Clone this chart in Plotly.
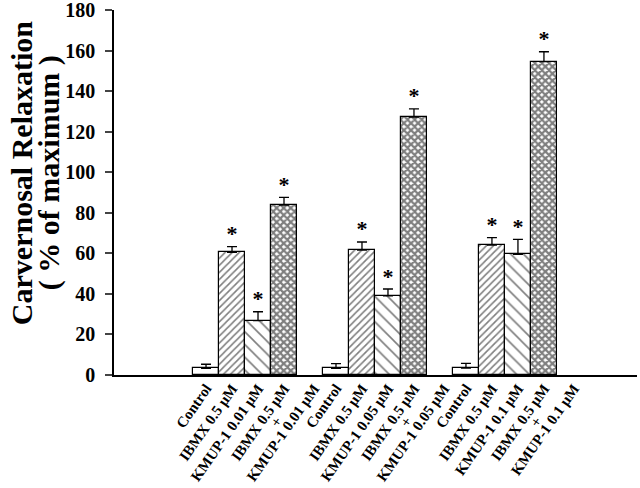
import plotly.graph_objects as go

# ---- data ----
groups = ["0.01", "0.05", "0.1"]
control = [3.3, 3.3, 3.4]
control_err = [2.0, 2.3, 2.3]
ibmx = [60.5, 61.6, 64.1]
ibmx_err = [2.8, 4.0, 3.6]
kmup = [26.8, 39.0, 59.5]
kmup_err = [4.4, 3.4, 7.4]
combo = [83.8, 127.2, 154.5]
combo_err = [3.8, 4.0, 4.9]
star_ibmx = [True, True, True]
star_kmup = [True, True, True]
star_combo = [True, True, True]

FONT = "Liberation Serif"
GROUP_STEP = 5
LINE3_SHIFT = 1.15  # label offset (in bar widths) of the 3rd line of the combined label
PLUS_SHIFT = -0.3

def pos(j):
    return [g * GROUP_STEP + j for g in range(len(groups))]

fig = go.Figure()

series = [
    ("Control", control, control_err, "", 8, 0.0),
    ("IBMX", ibmx, ibmx_err, "/", 5, 0.32),
    ("KMUP", kmup, kmup_err, "\\", 9, 0.18),
    ("Combo", combo, combo_err, "x", 5, 0.7),
]
for j, (name, vals, errs, shape, size, sol) in enumerate(series):
    marker = dict(color="white", line=dict(color="black", width=1.2))
    if shape:
        marker["pattern"] = dict(shape=shape, size=size, solidity=sol,
                                 fgcolor="black", bgcolor="white", fillmode="overlay")
    fig.add_trace(go.Bar(
        x=pos(j), y=vals, width=1.0, name=name, marker=marker,
        error_y=dict(type="data", array=errs, arrayminus=[0] * len(errs),
                     symmetric=False, color="black", thickness=1.3, width=5),
        showlegend=False,
    ))

# stars
sx, sy = [], []
for j, (vals, errs, flags) in enumerate([(ibmx, ibmx_err, star_ibmx),
                                         (kmup, kmup_err, star_kmup),
                                         (combo, combo_err, star_combo)], start=1):
    for g in range(len(groups)):
        if flags[g]:
            sx.append(g * GROUP_STEP + j)
            sy.append(vals[g] + errs[g])
fig.add_trace(go.Scatter(x=sx, y=sy, mode="text", text=["*"] * len(sx),
                         textposition="top center",
                         textfont=dict(family=FONT, size=22, color="black", weight="bold"),
                         showlegend=False, hoverinfo="skip", cliponaxis=False))

# x labels: single lines as tick labels, "+" as rotated annotation
tickvals, ticktext = [], []
for g, c in enumerate(groups):
    base = g * GROUP_STEP
    for j, lab in enumerate(["Control", "IBMX 0.5 μM", f"KMUP-1 {c} μM", "IBMX 0.5 μM"]):
        tickvals.append(base + j)
        ticktext.append(lab)
    tickvals.append(base + 3 + LINE3_SHIFT)
    ticktext.append(f"KMUP-1 {c} μM")
    fig.add_annotation(text="+", xref="x", yref="paper", x=base + 3 + PLUS_SHIFT,
                       y=0, yshift=-47, textangle=-55, showarrow=False,
                       xanchor="center", yanchor="middle",
                       font=dict(family=FONT, size=15, weight="bold"))

fig.update_layout(
    width=640, height=488,
    margin=dict(l=114, r=3, t=10, b=113),
    paper_bgcolor="white", plot_bgcolor="white",
    font=dict(family=FONT, color="black"),
    bargap=0,
)
fig.update_xaxes(range=[-3.54, 16.58], tickvals=tickvals, ticktext=ticktext,
                 tickangle=-55, ticks="", ticklen=0, ticklabelstandoff=-3,
                 showline=True, linecolor="black", automargin=False,
                 linewidth=1.5, showgrid=False, zeroline=False,
                 tickfont=dict(family=FONT, size=15, weight="bold"))
fig.update_yaxes(range=[0, 180], tickvals=list(range(0, 181, 20)),
                 ticks="outside", ticklen=7, tickwidth=1.5, showline=True,
                 linecolor="black", linewidth=1.5, showgrid=False, zeroline=False,
                 automargin=False, ticklabelstandoff=6, ticklabeloverflow="allow",
                 tickfont=dict(family=FONT, size=20, weight="bold"))

fig.add_annotation(text="Carvernosal Relaxation", xref="paper", yref="paper",
                   x=0, y=0.553, xshift=-93, textangle=-90, showarrow=False,
                   xanchor="center", yanchor="middle",
                   font=dict(family=FONT, size=30, weight="bold"))
fig.add_annotation(text="( % of maximum )", xref="paper", yref="paper",
                   x=0, y=0.553, xshift=-65, textangle=-90, showarrow=False,
                   xanchor="center", yanchor="middle",
                   font=dict(family=FONT, size=30, weight="bold"))

fig.write_html("out.html", config={"displayModeBar": False},
               post_script="document.body.style.margin='0';document.body.style.padding='0';")
